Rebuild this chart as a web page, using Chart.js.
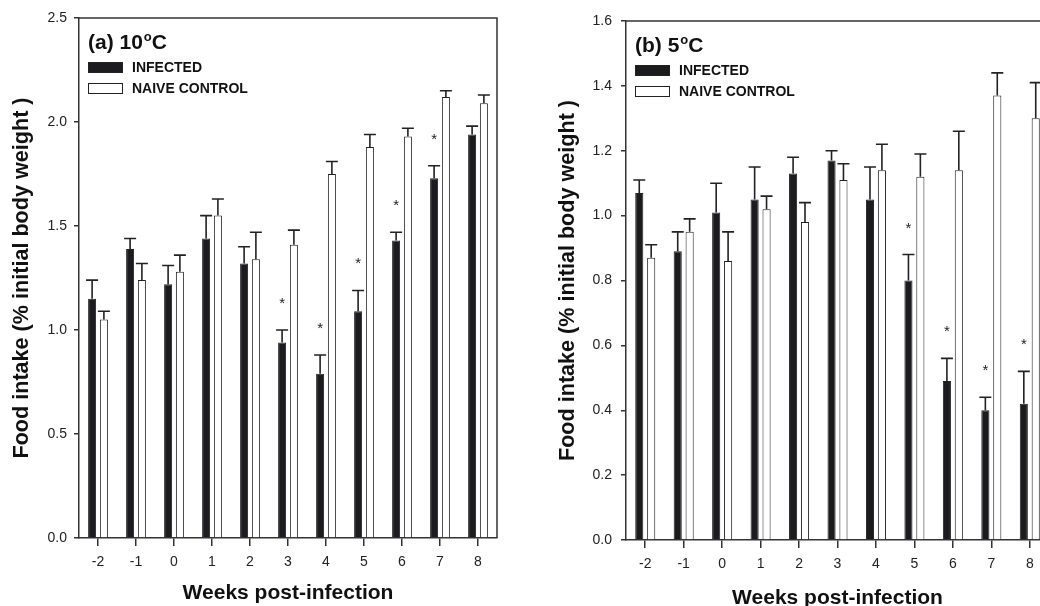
<!DOCTYPE html>
<html lang="en">
<head>
    <meta charset="UTF-8">
    <title>Food intake - infected vs naive control</title>
    <script src="https://cdn.jsdelivr.net/npm/chart.js"></script>
    <style>
        body {
            margin: 0;
            width: 1040px;
            height: 606px;
            overflow: hidden;
            position: relative;
            background: #fff;
        }
        .panel {
            position: absolute;
            top: 0;
            height: 620px;
        }
        #p10 { left: 0; width: 530px; }
        #p5 { left: 540px; width: 540px; }
    </style>
</head>
<body>
    <div class="panel" id="p10"><canvas id="chart10"></canvas></div>
    <div class="panel" id="p5"><canvas id="chart5"></canvas></div>

    <script>
        const weeks = ['-2', '-1', '0', '1', '2', '3', '4', '5', '6', '7', '8'];

        // (a) 10 C
        const infected10 = [1.15, 1.39, 1.22, 1.44, 1.32, 0.94, 0.79, 1.09, 1.43, 1.73, 1.94];
        const infected10Err = [0.09, 0.05, 0.09, 0.11, 0.08, 0.06, 0.09, 0.10, 0.04, 0.06, 0.04];
        const naive10 = [1.05, 1.24, 1.28, 1.55, 1.34, 1.41, 1.75, 1.88, 1.93, 2.12, 2.09];
        const naive10Err = [0.04, 0.08, 0.08, 0.08, 0.13, 0.07, 0.06, 0.06, 0.04, 0.03, 0.04];
        const sig10 = [false, false, false, false, false, true, true, true, true, true, false];

        // (b) 5 C
        const infected5 = [1.07, 0.89, 1.01, 1.05, 1.13, 1.17, 1.05, 0.80, 0.49, 0.40, 0.42];
        const infected5Err = [0.04, 0.06, 0.09, 0.10, 0.05, 0.03, 0.10, 0.08, 0.07, 0.04, 0.10];
        const naive5 = [0.87, 0.95, 0.86, 1.02, 0.98, 1.11, 1.14, 1.12, 1.14, 1.37, 1.30];
        const naive5Err = [0.04, 0.04, 0.09, 0.04, 0.06, 0.05, 0.08, 0.07, 0.12, 0.07, 0.11];
        const sig5 = [false, false, false, false, false, false, false, true, true, true, true];

        Chart.defaults.font.family = "'Liberation Sans', Arial, sans-serif";
        Chart.defaults.color = '#222';

        const INK = '#222';

        // one-sided error bars + significance stars
        const errorBars = {
            id: 'errorBars',
            afterDatasetsDraw(chart, args, opts) {
                const ctx = chart.ctx;
                const y = chart.scales.y;
                ctx.save();
                ctx.strokeStyle = INK;
                ctx.lineWidth = 1.6;
                chart.data.datasets.forEach((ds, di) => {
                    chart.getDatasetMeta(di).data.forEach((bar, i) => {
                        const top = y.getPixelForValue(ds.data[i]);
                        const cap = y.getPixelForValue(ds.data[i] + ds.errors[i]);
                        ctx.beginPath();
                        ctx.moveTo(bar.x, top);
                        ctx.lineTo(bar.x, cap);
                        ctx.moveTo(bar.x - 6, cap);
                        ctx.lineTo(bar.x + 6, cap);
                        ctx.stroke();
                    });
                });
                // stars above infected bars
                const inf = chart.data.datasets[0];
                ctx.fillStyle = INK;
                ctx.font = "15px 'Liberation Sans', Arial, sans-serif";
                ctx.textAlign = 'center';
                ctx.textBaseline = 'alphabetic';
                chart.getDatasetMeta(0).data.forEach((bar, i) => {
                    if (!opts.sig[i]) return;
                    const cap = y.getPixelForValue(inf.data[i] + inf.errors[i]);
                    ctx.fillText('*', bar.x, cap - 22);
                });
                ctx.restore();
            }
        };

        // frame, panel title and in-plot legend
        const panelDeco = {
            id: 'panelDeco',
            afterDraw(chart, args, opts) {
                const ctx = chart.ctx;
                const a = chart.chartArea;
                ctx.save();
                ctx.strokeStyle = '#333';
                ctx.lineWidth = 1.5;
                ctx.beginPath();
                ctx.moveTo(a.left, a.top);
                ctx.lineTo(a.right, a.top);
                ctx.lineTo(a.right, a.bottom);
                ctx.stroke();

                const x0 = a.left + 9;
                ctx.fillStyle = '#111';
                ctx.textBaseline = 'alphabetic';
                ctx.textAlign = 'left';
                ctx.font = "bold 21px 'Liberation Sans', Arial, sans-serif";
                const base = a.top + 31;
                ctx.fillText(opts.title, x0, base);
                let w = ctx.measureText(opts.title).width;
                ctx.font = "bold 13px 'Liberation Sans', Arial, sans-serif";
                ctx.fillText('o', x0 + w + 1, base - 8);
                w += ctx.measureText('o').width + 1;
                ctx.font = "bold 21px 'Liberation Sans', Arial, sans-serif";
                ctx.fillText('C', x0 + w, base);

                // legend
                ctx.font = "bold 14px 'Liberation Sans', Arial, sans-serif";
                ctx.textBaseline = 'middle';
                chart.data.datasets.forEach((ds, i) => {
                    const by = a.top + 44 + i * 21;
                    ctx.fillStyle = ds.backgroundColor;
                    ctx.fillRect(x0, by, 35, 11);
                    ctx.strokeStyle = INK;
                    ctx.lineWidth = 1;
                    ctx.strokeRect(x0 + 0.5, by + 0.5, 34, 10);
                    ctx.fillStyle = '#111';
                    ctx.fillText(ds.label, x0 + 44, by + 6);
                });
                ctx.restore();
            }
        };

        function makeChart(id, cfg) {
            return new Chart(document.getElementById(id), {
                type: 'bar',
                data: {
                    labels: weeks,
                    datasets: [
                        {
                            label: 'INFECTED',
                            data: cfg.infected,
                            errors: cfg.infectedErr,
                            backgroundColor: '#1c1c1e',
                            borderColor: INK,
                            borderWidth: 1,
                            barPercentage: 0.68,
                            categoryPercentage: 0.62
                        },
                        {
                            label: 'NAIVE CONTROL',
                            data: cfg.naive,
                            errors: cfg.naiveErr,
                            backgroundColor: '#ffffff',
                            borderColor: INK,
                            borderWidth: 1,
                            barPercentage: 0.68,
                            categoryPercentage: 0.62
                        }
                    ]
                },
                options: {
                    responsive: true,
                    maintainAspectRatio: false,
                    animation: false,
                    layout: { padding: cfg.pad },
                    plugins: {
                        legend: { display: false },
                        tooltip: { enabled: false },
                        errorBars: { sig: cfg.sig },
                        panelDeco: { title: cfg.title }
                    },
                    scales: {
                        x: {
                            offset: true,
                            grid: { offset: false, drawOnChartArea: false, tickLength: 8, color: '#333', lineWidth: 1.5 },
                            border: { color: '#333', width: 1.5 },
                            ticks: { font: { size: 14 }, color: INK, padding: 8, maxRotation: 0 },
                            title: {
                                display: true,
                                text: 'Weeks post-infection',
                                font: { size: 21, weight: 'bold' },
                                color: '#111',
                                padding: { top: 0, bottom: cfg.xTitlePad }
                            },
                            afterFit: s => { s.height = cfg.xHeight; }
                        },
                        y: {
                            min: 0,
                            max: cfg.yMax,
                            grid: { drawOnChartArea: false, tickLength: 5, color: '#333', lineWidth: 1.5 },
                            border: { color: '#333', width: 1.5 },
                            ticks: {
                                stepSize: cfg.yStep,
                                font: { size: 14 },
                                color: INK,
                                padding: cfg.yTickPad,
                                callback: v => v.toFixed(1)
                            },
                            title: {
                                display: true,
                                text: 'Food intake (% initial body weight )',
                                font: { size: 21.6, weight: 'bold' },
                                color: '#111',
                                padding: { top: cfg.yTitlePad, bottom: 0 }
                            },
                            afterFit: s => { s.width = cfg.yWidth; }
                        }
                    }
                },
                plugins: [errorBars, panelDeco]
            });
        }

        makeChart('chart10', {
            infected: infected10, infectedErr: infected10Err,
            naive: naive10, naiveErr: naive10Err, sig: sig10,
            title: '(a) 10', yMax: 2.5, yStep: 0.5,
            pad: { top: 18, right: 33, bottom: 0, left: 0 },
            yWidth: 79, xHeight: 82, yTitlePad: 9, xTitlePad: 14, yTickPad: 7
        });

        makeChart('chart5', {
            infected: infected5, infectedErr: infected5Err,
            naive: naive5, naiveErr: naive5Err, sig: sig5,
            title: '(b) 5', yMax: 1.6, yStep: 0.2,
            pad: { top: 21, right: 31, bottom: 0, left: 0 },
            yWidth: 86, xHeight: 80, yTitlePad: 15, xTitlePad: 9, yTickPad: 9
        });
    </script>
</body>
</html>
